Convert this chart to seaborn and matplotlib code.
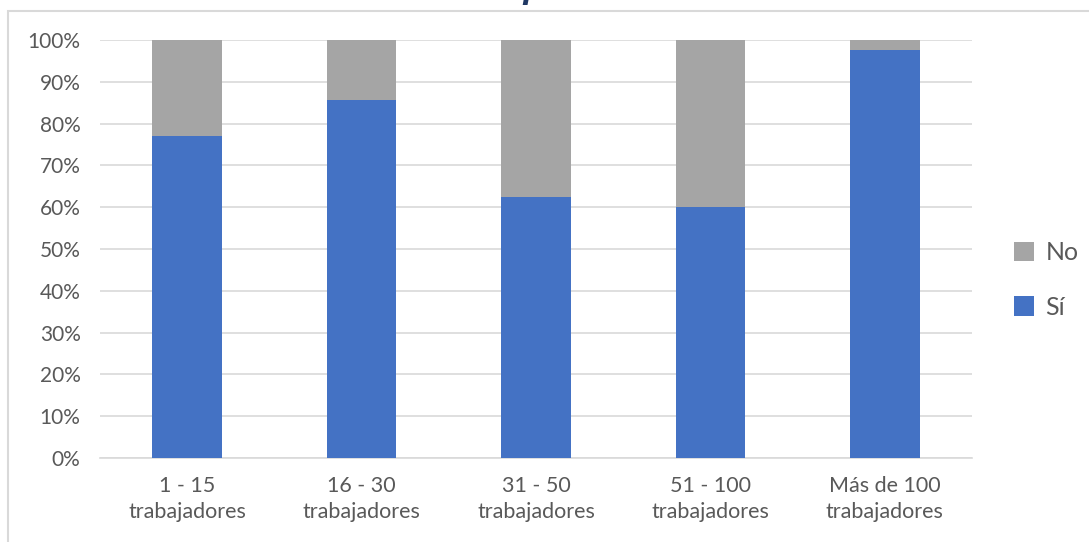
import matplotlib
matplotlib.use("Agg")
import matplotlib.pyplot as plt
from matplotlib.patches import Rectangle, Patch
from matplotlib.ticker import PercentFormatter, FixedLocator
import seaborn as sns
import pandas as pd
import numpy as np

# Company size groups and share of answers (%)
categories = ["1 - 15\ntrabajadores", "16 - 30\ntrabajadores", "31 - 50\ntrabajadores",
              "51 - 100\ntrabajadores", "Más de 100\ntrabajadores"]
si = [77.0, 85.7, 62.5, 60.0, 97.7]
no = [23.0, 14.3, 37.5, 40.0, 2.3]
series_labels = ["No", "Sí"]

BLUE = "#4472C4"
GRAY = "#A5A5A5"
GRID = "#D9D9D9"
TEXT = "#595959"

sns.set_theme(style="white")
plt.rcParams["font.family"] = ["Lato", "DejaVu Sans"]

df = pd.DataFrame({"cat": categories, "si": si, "no": no})
df["total"] = df["si"] + df["no"]

fig = plt.figure(figsize=(10.89, 5.42), dpi=100)
ax = fig.add_axes([100 / 1089, 84 / 542, 872 / 1089, 418 / 542])

# stacked bars: full stack in gray, "Sí" part in blue on top of it
sns.barplot(data=df, x="cat", y="total", color=GRAY, width=0.4,
            saturation=1, ax=ax, zorder=2, linewidth=0)
sns.barplot(data=df, x="cat", y="si", color=BLUE, width=0.4,
            saturation=1, ax=ax, zorder=3, linewidth=0)

ax.set_ylim(0, 100)
ax.set_xlim(-0.5, len(categories) - 0.5)
ax.set_yticks(np.arange(0, 101, 10))
ax.yaxis.set_major_formatter(PercentFormatter(decimals=0))
ax.grid(axis="y", color=GRID, linewidth=1.2, zorder=0)
ax.set_axisbelow(True)
ax.set_xlabel("")
ax.set_ylabel("")

for side in ["top", "right", "left"]:
    ax.spines[side].set_visible(False)
ax.spines["bottom"].set_color(GRID)
ax.spines["bottom"].set_linewidth(1.2)

ax.tick_params(axis="y", length=0, pad=14, labelsize=15, labelcolor=TEXT)
ax.tick_params(axis="x", which="major", length=0, pad=13, labelsize=15.5, labelcolor=TEXT)
ax.xaxis.set_minor_locator(FixedLocator(np.arange(-0.5, len(categories), 1.0)))
ax.tick_params(axis="x", which="minor", length=8, width=1.2, color=GRID)
for lbl in ax.get_xticklabels():
    lbl.set_linespacing(1.35)

handles = [Patch(facecolor=GRAY, edgecolor="none"), Patch(facecolor=BLUE, edgecolor="none")]
fig.legend(handles, series_labels, loc="center left", bbox_to_anchor=(1014 / 1089, 262 / 542),
           frameon=False, fontsize=18, labelcolor=TEXT, handlelength=0.8, handleheight=0.8,
           handletextpad=0.45, labelspacing=1.25, borderpad=0, borderaxespad=0)

# chart frame
fig.patches.append(Rectangle((8 / 1089, -0.05), 1.2, 531 / 542 + 0.05, transform=fig.transFigure,
                             facecolor="none", edgecolor=GRID, linewidth=1.5))

# title (sits above the visible area)
fig.text(531 / 1089, 1 + 1 / 542, "p", ha="center", va="baseline", fontsize=20,
         fontstyle="italic", fontweight="bold", family="DejaVu Serif", color="#1F3864")

fig.savefig("out.png", dpi=100)
